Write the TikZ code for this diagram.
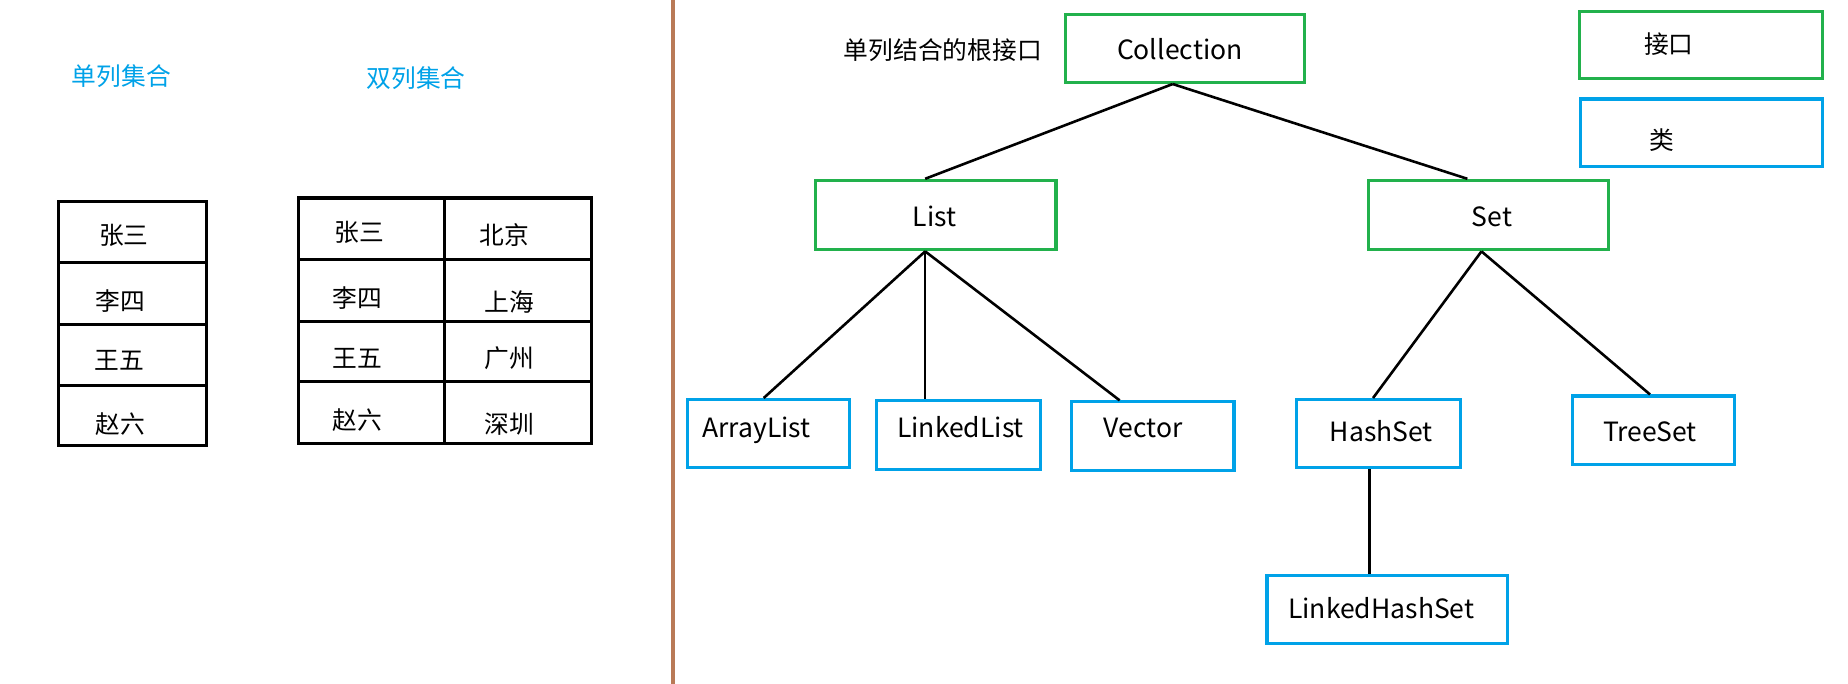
\documentclass[tikz,border=0pt]{standalone}
\usepackage{fontspec}
\setmainfont{Noto Sans CJK SC}
\definecolor{pgreen}{RGB}{34,177,76}
\definecolor{pblue}{RGB}{0,162,232}
\definecolor{pbrown}{RGB}{185,122,87}
\begin{document}
\begin{tikzpicture}[x=1pt,y=-1pt,
  cjk/.style={inner sep=0pt,yshift=-4pt,font=\fontsize{21}{25}\selectfont,text height=0.8em,text depth=0.1em},
  lat/.style={inner sep=0pt,yshift=-4.5pt,font=\fontsize{22.5}{26}\selectfont,text height=1.5ex,text depth=0pt},
  ibox/.style={draw=pgreen,line width=2.6pt,inner sep=0pt},
  cbox/.style={draw=pblue,line width=2.6pt,inner sep=0pt},
  grid/.style={draw=black,line width=2.6pt},
  conn/.style={draw=black,line width=2.2pt}]
\useasboundingbox (0,0) rectangle (1568,580);
\fill[white] (0,0) rectangle (1568,580);
% divider
\draw[pbrown,line width=3pt] (571,0) -- (571,580);
% headings
\node[cjk,text=pblue] (h1) at (103,65) {单列集合};
\node[cjk,text=pblue] (h2) at (353,67) {双列集合};
% single table
\draw[grid] (50,171) rectangle (175,378);
\draw[grid] (50,223) -- (175,223);
\draw[grid] (50,275) -- (175,275);
\draw[grid] (50,327) -- (175,327);
\node[cjk] (s1) at (105,200) {张三};
\node[cjk] (s2) at (102,256) {李四};
\node[cjk] (s3) at (101,306) {王五};
\node[cjk] (s4) at (102,360) {赵六};
% double table
\draw[grid] (253,168) rectangle (502,376);
\draw[grid] (377,168) -- (377,376);
\draw[grid] (253,220.5) -- (502,220.5);
\draw[grid] (253,272.5) -- (502,272.5);
\draw[grid] (253,324) -- (502,324);
\node[cjk] (d1) at (305,197) {张三};
\node[cjk] (d2) at (428,200) {北京};
\node[cjk] (d3) at (303,253) {李四};
\node[cjk] (d4) at (432,257) {上海};
\node[cjk] (d5) at (303,304) {王五};
\node[cjk] (d6) at (432,304) {广州};
\node[cjk] (d7) at (303,357) {赵六};
\node[cjk] (d8) at (432,360) {深圳};
% tree boxes
\node[ibox,minimum width=203pt,minimum height=58pt] (coll) at (1005.5,41) {};
\node[ibox,minimum width=206pt,minimum height=57pt] (iface) at (1443,38.5) {};
\node[cbox,minimum width=205pt,minimum height=57pt] (cls) at (1443.5,112.5) {};
\node[ibox,minimum width=204pt,minimum height=59pt] (list) at (794,182.5) {};
\node[ibox,minimum width=204pt,minimum height=59pt] (set) at (1263,182.5) {};
\node[cbox,minimum width=138pt,minimum height=58pt] (al) at (652,368) {};
\node[cbox,minimum width=139pt,minimum height=58pt] (ll) at (813.5,369) {};
\node[cbox,minimum width=138pt,minimum height=58pt] (vec) at (978,370) {};
\node[cbox,minimum width=139pt,minimum height=58pt] (hs) at (1169.5,368) {};
\node[cbox,minimum width=138pt,minimum height=58pt] (ts) at (1403,365) {};
\node[cbox,minimum width=204pt,minimum height=58pt] (lhs) at (1177,517) {};
% texts
\node[cjk] (root) at (800,43) {单列结合的根接口};
\node[lat] (tcoll) at (1001,42) {Collection};
\node[cjk] (tiface) at (1416,38) {接口};
\node[cjk] (tcls) at (1410,119) {类};
\node[lat] (tlist) at (793,184) {List};
\node[lat] (tset) at (1266,184) {Set};
\node[lat] (tal) at (642,363) {ArrayList};
\node[lat] (tll) at (815,363) {LinkedList};
\node[lat] (tvec) at (970,363) {Vector};
\node[lat] (ths) at (1172,366) {HashSet};
\node[lat] (tts) at (1400,366) {TreeSet};
\node[lat] (tlhs) at (1172,516) {LinkedHashSet};
% connectors
\draw[conn] ([xshift=-10.5pt]coll.south) -- ([xshift=-9pt]list.north);
\draw[conn] ([xshift=-10.5pt]coll.south) -- ([xshift=-18pt]set.north);
\draw[conn] ([xshift=-9pt]list.south) -- ([xshift=-4pt]al.north);
\draw[conn] ([xshift=-9pt]list.south) -- ([xshift=-28.5pt]ll.north);
\draw[conn] ([xshift=-9pt]list.south) -- ([xshift=-28pt]vec.north);
\draw[conn] ([xshift=-6pt]set.south) -- ([xshift=-4.5pt]hs.north);
\draw[conn] ([xshift=-6pt]set.south) -- ([xshift=-3pt]ts.north);
\draw[conn] ([xshift=-7.5pt]hs.south) -- ([xshift=-15pt]lhs.north);
\end{tikzpicture}
\end{document}
